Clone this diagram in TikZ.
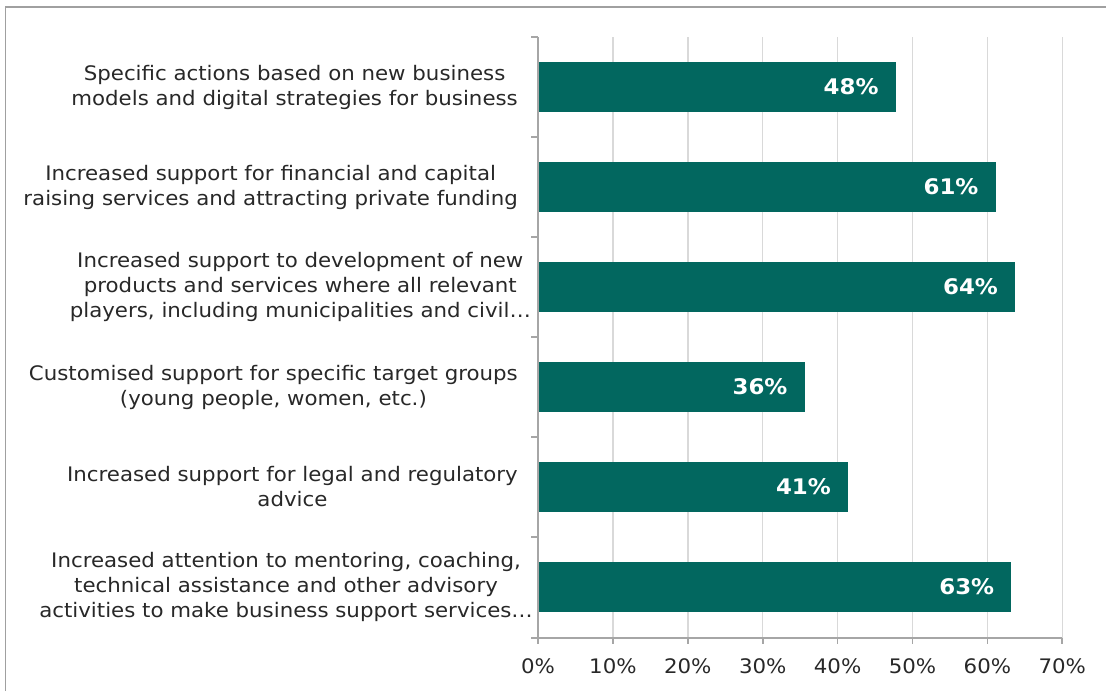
\documentclass[tikz,border=0pt]{standalone}
\usepackage{fontspec}
\setmainfont[FakeStretch=1.066]{DejaVu Sans}
\definecolor{barc}{RGB}{2,103,95}
\definecolor{txt}{RGB}{40,40,40}
\definecolor{gridc}{RGB}{217,217,217}
\definecolor{axisc}{RGB}{166,166,166}
\definecolor{framec}{RGB}{160,160,160}
\tikzset{
  catlabel/.style={anchor=east, align=center, text=txt, inner sep=0pt,
    font=\fontsize{20}{25}\selectfont},
  vallabel/.style={anchor=east, text=white, inner sep=0pt,
    font=\fontsize{21.5}{24}\selectfont\bfseries},
  ticklabel/.style={anchor=center, text=txt, inner sep=0pt,
    font=\fontsize{20}{24}\selectfont},
  barrect/.style={fill=barc, draw=none},
  gridline/.style={draw=gridc, line width=1.5pt},
  axisline/.style={draw=axisc, line width=1.7pt},
}
\begin{document}
\begin{tikzpicture}[x=1pt,y=-1pt]
\useasboundingbox (0,0) rectangle (1106,691);
\fill[white] (0,0) rectangle (1106,691);
% frame
\draw[framec, line width=1.5pt] (5.5,691) -- (5.5,7) -- (1106,7);
% gridlines
\foreach \k in {1,...,7}{
  \draw[gridline] ({538+74.9*\k},37) -- ({538+74.9*\k},638);
}
% bars
\def\sc{7.49}
\foreach \v/\i in {47.75/0,61.1/1,63.7/2,35.6/3,41.4/4,63.2/5}{
  \fill[barc] (538,{62+100*\i}) rectangle ({538+\v*\sc},{112+100*\i});
}
% axes
\draw[axisline] (538,37) -- (538,638);
\draw[axisline] (531,638) -- (1062.3,638);
\foreach \k in {0,...,5}{
  \draw[axisline] (531,{37+100*\k}) -- (538,{37+100*\k});
}
\foreach \k in {0,...,7}{
  \draw[axisline] ({538+74.9*\k},638) -- ({538+74.9*\k},644);
}
% value labels
\node[vallabel] (v1) at ({538+47.75*\sc-17},87) {48\%};
\node[vallabel] (v2) at ({538+61.1*\sc-17},187) {61\%};
\node[vallabel] (v3) at ({538+63.7*\sc-17},287) {64\%};
\node[vallabel] (v4) at ({538+35.6*\sc-17},387) {36\%};
\node[vallabel] (v5) at ({538+41.4*\sc-17},487) {41\%};
\node[vallabel] (v6) at ({538+63.2*\sc-17},587) {63\%};
% category labels
\node[catlabel] (c1) at (518,87) {Specific actions based on new business\\models and digital strategies for business};
\node[catlabel] (c2) at (518,187) {Increased support for financial and capital\\raising services and attracting private funding};
\node[catlabel] (c3) at (531,287) {Increased support to development of new\\products and services where all relevant\\players, including municipalities and civil…};
\node[catlabel] (c4) at (518,387) {Customised support for specific target groups\\(young people, women, etc.)};
\node[catlabel] (c5) at (518,487) {Increased support for legal and regulatory\\advice};
\node[catlabel] (c6) at (533,587) {Increased attention to mentoring, coaching,\\technical assistance and other advisory\\activities to make business support services…};
% x tick labels
\foreach \k in {0,...,7}{
  \node[ticklabel] (t\k) at ({538+74.9*\k},666) {\the\numexpr\k*10\relax\%};
}
\end{tikzpicture}
\end{document}
